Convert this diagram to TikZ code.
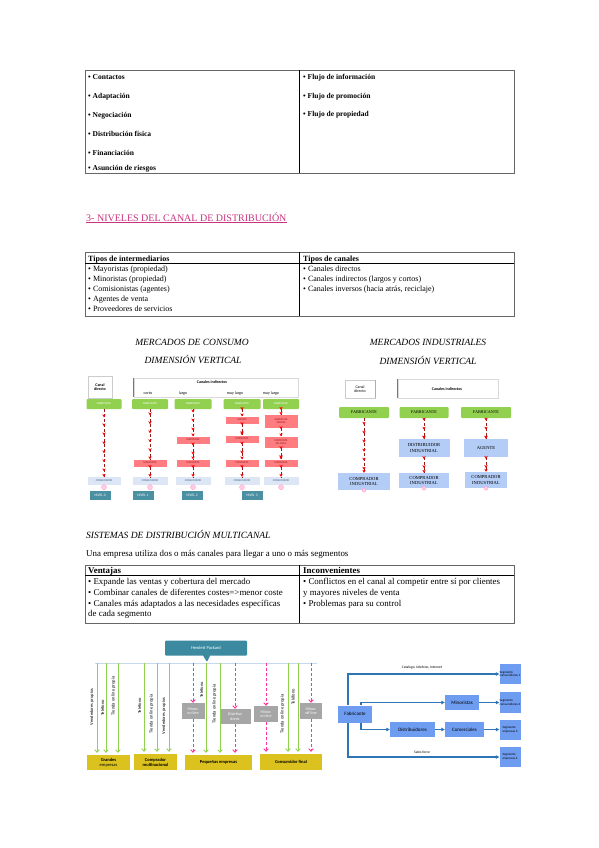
\documentclass[tikz,border=0pt]{standalone}
\usepackage{fontspec}
\setmainfont{Liberation Serif}
\newfontfamily\calibri{Carlito}
\usetikzlibrary{arrows.meta, positioning, calc, decorations.markings, shapes.callouts}

\definecolor{titlepink}{HTML}{C8327F}
\definecolor{boxgreen}{HTML}{92D050}
\definecolor{boxred}{HTML}{FF7C80}
\definecolor{chainred}{HTML}{8E1B1B}
\definecolor{consblue}{HTML}{DCE6F4}
\definecolor{nivelteal}{HTML}{4A8FA2}
\definecolor{indblue}{HTML}{B4CDF6}
\definecolor{edgeblue}{HTML}{4F81BD}
\definecolor{hpteal}{HTML}{3B8AA0}
\definecolor{segold}{HTML}{DCC21E}
\definecolor{greybox}{HTML}{A6A6A6}
\definecolor{dashpink}{HTML}{FF3399}
\definecolor{hpline}{HTML}{C6D9F1}
\definecolor{flowblue}{HTML}{2E75B6}
\definecolor{flowbox}{HTML}{6E9CF0}

\tikzset{
  tabframe/.style={draw=black!60, line width=0.8pt},
  tabrule/.style={draw=black, line width=0.6pt},
  cell/.style={anchor=base west, inner sep=0pt, font=\fontsize{8}{9}\selectfont},
  cellbf/.style={cell, font=\fontsize{8}{9}\selectfont\bfseries},
  bigcell/.style={anchor=base west, inner sep=0pt, font=\fontsize{8.9}{10}\selectfont},
  bigcellbf/.style={bigcell, font=\fontsize{8.9}{10}\selectfont\bfseries},
  flowcell/.style={anchor=base west, inner sep=0pt, font=\fontsize{7.5}{8}\selectfont\bfseries},
  ititle/.style={inner sep=0pt, font=\fontsize{9.5}{10}\selectfont\itshape},
  hdrbox/.style={draw=black!20, fill=white, align=center, inner sep=0pt,
    font=\calibri\bfseries\fontsize{4}{4.6}\selectfont},
  lbl/.style={inner sep=0pt, font=\calibri\fontsize{4}{4.6}\selectfont},
  fabbox/.style={fill=boxgreen, rounded corners=1pt, minimum height=10pt, inner sep=0pt,
    text=white, font=\calibri\fontsize{2.8}{3}\selectfont},
  redbox/.style={fill=boxred, minimum width=33pt, minimum height=7pt, inner sep=0pt, align=center,
    text=chainred, font=\calibri\fontsize{2.8}{3}\selectfont},
  consbox/.style={fill=consblue, minimum height=8pt, inner sep=0pt,
    text=edgeblue!70!black, font=\calibri\fontsize{2.8}{3}\selectfont},
  nivel/.style={fill=nivelteal, minimum width=21pt, minimum height=9pt, inner sep=0pt,
    text=white, font=\calibri\fontsize{3.6}{4}\selectfont},
  pinkdot/.style={circle, fill=dashpink!25, draw=dashpink!50, line width=0.3pt, minimum size=5pt, inner sep=0pt},
  chain/.style={draw=chainred, densely dashed, line width=0.7pt,
    postaction={decorate, decoration={markings,
      mark=between positions 0.12 and 1 step 9pt with {\arrow{Stealth[length=3pt,width=3.4pt,red]}},
      mark=at position 1 with {\arrow{Stealth[length=3pt,width=3.4pt,red]}}}}},
  indfab/.style={fill=boxgreen, rounded corners=1pt, minimum height=11pt, inner sep=0pt,
    font=\fontsize{4.2}{4.6}\selectfont},
  indbox/.style={fill=indblue, minimum height=17pt, inner sep=0pt, align=center,
    font=\fontsize{4.6}{5.6}\selectfont},
  hpbox/.style={rectangle callout, fill=hpteal, rounded corners=1pt, minimum width=82pt, minimum height=15pt,
    inner sep=0pt, text=white, font=\calibri\fontsize{4.5}{5}\selectfont},
  segbox/.style={fill=segold, minimum height=15pt, inner sep=0pt, align=center,
    font=\calibri\bfseries\fontsize{4.5}{5}\selectfont},
  greyb/.style={fill=greybox, minimum height=16pt, inner sep=0pt, align=center,
    text=white, font=\calibri\fontsize{4}{4.6}\selectfont},
  gline/.style={draw=boxgreen, line width=0.9pt, -{Straight Barb[length=2.5pt,width=4.5pt]}},
  pline/.style={draw=dashpink, line width=0.9pt, dash pattern=on 3pt off 2pt,
    -{Straight Barb[length=2.5pt,width=4.5pt]}},
  vlbl/.style={rotate=90, inner sep=0pt, font=\calibri\fontsize{4.5}{5}\selectfont},
  fbox/.style={fill=flowbox, minimum height=15pt, inner sep=0pt, align=center,
    font=\calibri\fontsize{5}{5.5}\selectfont},
  sbox/.style={fill=flowbox, minimum width=21pt, minimum height=20pt, inner sep=0pt, align=left,
    font=\calibri\fontsize{3.2}{3.6}\selectfont},
  flow/.style={draw=flowblue, line width=1.4pt, -{Triangle[length=3.5pt,width=3.5pt]}},
  flowlbl/.style={inner sep=0pt, font=\calibri\fontsize{3.6}{4}\selectfont}
}

\begin{document}
\begin{tikzpicture}[x=1pt, y=-1pt]
  \fill[white] (0,0) rectangle (599,848);
  \useasboundingbox (0,0) rectangle (599,848);

  \draw[tabframe] (85,70) rectangle (514,173);
  \draw[tabrule] (299,70) -- (299,173);
  \foreach \y/\t [count=\i] in {77/Contactos, 96/Adaptación, 115/Negociación,
      134/Distribución física, 153/Financiación, 168/Asunción de riesgos}
    \node[flowcell] (fa\i) at (88,\y+2.5) {• \t};
  \foreach \y/\t [count=\i] in {77/información, 96/promoción, 114/propiedad}
    \node[flowcell] (fb\i) at (303,\y+2.5) {• Flujo de \t};

  \node[anchor=base west, inner sep=0pt, text=titlepink, font=\fontsize{10}{11}\selectfont]
    (head) at (86,221) {3- NIVELES DEL CANAL DE DISTRIBUCIÓN};
  \draw[titlepink, line width=0.5pt] ([yshift=-1.4pt]head.base west) -- ([yshift=-1.4pt]head.base east);

  \draw[tabframe] (85,252) rectangle (514,316);
  \draw[tabrule] (85,263) -- (514,263);
  \draw[tabrule] (299,252) -- (299,316);
  \node[cellbf] (ti) at (88,261) {Tipos de intermediarios};
  \node[cellbf] (tc) at (303,261) {Tipos de canales};
  \foreach \y/\t [count=\i] in {271/Mayoristas (propiedad), 281/Minoristas (propiedad),
      291/Comisionistas (agentes), 301/Agentes de venta, 311/Proveedores de servicios}
    \node[cell] (ti\i) at (88,\y) {• \t};
  \node[cell] (tc1) at (303,271) {• Canales directos};
  \node[cell] (tc2) at (303,281) {• Canales indirectos (largos y cortos)};
  \node[cell] (tc3) at (303,291) {• Canales inversos (hacia atrás, reciclaje)};

  \node[ititle] (mct) at (192,342) {MERCADOS DE CONSUMO};
  \node[ititle] (mcv) at (193,359) {DIMENSIÓN VERTICAL};
  \node[hdrbox, minimum width=24pt, minimum height=22pt] (cdc) at (100,387) {Canal\\directo};
  \node[draw=black!15, minimum width=164pt, minimum height=19pt, inner sep=0pt] (cic) at (216,387.5) {};
  \draw[edgeblue, line width=0.8pt] (cic.north west) -- (cic.south west);
  \node[lbl, font=\calibri\bfseries\fontsize{4}{4.6}\selectfont] (cil) at (212,382) {Canales indirectos};
  \node[lbl] (co1) at (148,393) {corto};
  \node[lbl] (co2) at (183,393) {largo};
  \node[lbl] (co3) at (235,393) {muy largo};
  \node[lbl] (co4) at (271,393) {muy largo};

  \node[fabbox, minimum width=35pt] (f1) at (104,404) {FABRICANTE};
  \node[fabbox, minimum width=36pt] (f2) at (150,404) {FABRICANTE};
  \node[fabbox, minimum width=37pt] (f3) at (193,404) {FABRICANTE};
  \node[fabbox, minimum width=37pt] (f4) at (242,404) {FABRICANTE};
  \node[fabbox, minimum width=36pt] (f5) at (281,404) {FABRICANTE};

  \node[redbox] (m2a) at (150,463) {MINORISTA};
  \node[redbox] (m3a) at (193,440) {MAYORISTA};
  \node[redbox] (m3b) at (193,463) {MINORISTA};
  \node[redbox] (m4a) at (242,420) {AGENTE};
  \node[redbox] (m4b) at (242,439) {MAYORISTA};
  \node[redbox] (m4c) at (242,463) {MINORISTA};
  \node[redbox, minimum height=13pt] (m5a) at (281,421.5) {AGENTE DE\\VENTAS};
  \node[redbox, minimum height=11pt] (m5b) at (281,442) {MAYORISTA\\DE ZONA};
  \node[redbox] (m5c) at (281,463) {MINORISTA};

  \node[consbox, minimum width=33pt] (cn1) at (104,481) {CONSUMIDOR};
  \node[consbox, minimum width=35pt] (cn2) at (150,481) {CONSUMIDOR};
  \node[consbox, minimum width=35pt] (cn3) at (193,481) {CONSUMIDOR};
  \node[consbox, minimum width=35pt] (cn4) at (242,481) {CONSUMIDOR};
  \node[consbox, minimum width=35pt] (cn5) at (281,481) {CONSUMIDOR};

  \foreach \a/\b in {f1/cn1, f2/m2a, m2a/cn2, f3/m3a, m3a/m3b, m3b/cn3,
      f4/m4a, m4a/m4b, m4b/m4c, m4c/cn4, f5/m5a, m5a/m5b, m5b/m5c, m5c/cn5}
    \draw[chain] (\a) -- (\b);
  \foreach \c in {cn1, cn2, cn3, cn4, cn5}
    \node[pinkdot] (d\c) at ([yshift=-2pt]\c.south) {};

  \node[nivel] (n0) at (100,495) {NIVEL 0};
  \node[nivel] (n1) at (143,495) {NIVEL 1};
  \node[nivel] (n2) at (192,495) {NIVEL 2};
  \node[nivel] (n3) at (252,495) {NIVEL 3};

  \node[ititle] (mit) at (428,342) {MERCADOS INDUSTRIALES};
  \node[ititle] (miv) at (428,360) {DIMENSIÓN VERTICAL};
  \node[hdrbox, minimum width=30pt, minimum height=18pt, font=\calibri\fontsize{4}{4.6}\selectfont]
    (cdi) at (360,389) {Canal\\directo};
  \draw[edgeblue!60, line width=0.8pt] (cdi.north east) -- (cdi.south east);
  \node[draw=black!15, minimum width=100pt, minimum height=19pt, inner sep=0pt] (cii) at (448,388.5) {};
  \draw[edgeblue, line width=0.8pt] (cii.north west) -- (cii.south west);
  \node[lbl, font=\calibri\bfseries\fontsize{4}{4.6}\selectfont] (cil2) at (447,389) {Canales indirectos};

  \node[indfab, minimum width=50pt] (if1) at (364,412.5) {FABRICANTE};
  \node[indfab, minimum width=49pt] (if2) at (424,412.5) {FABRICANTE};
  \node[indfab, minimum width=50pt] (if3) at (486,412.5) {FABRICANTE};
  \node[indbox, minimum width=51pt, minimum height=18pt] (idi) at (424,448) {DISTRIBUIDOR\\INDUSTRIAL};
  \node[indbox, minimum width=44pt, minimum height=18pt] (iag) at (486,448) {AGENTE};
  \node[indbox, minimum width=52pt] (ic1) at (364,481.5) {COMPRADOR\\INDUSTRIAL};
  \node[indbox, minimum width=50pt, minimum height=15pt] (ic2) at (424,480.5) {COMPRADOR\\INDUSTRIAL};
  \node[indbox, minimum width=42pt, minimum height=16pt] (ic3) at (486,480) {COMPRADOR\\INDUSTRIAL};
  \foreach \a/\b in {if1/ic1, if2/idi, idi/ic2, if3/iag, iag/ic3}
    \draw[chain] (\a) -- (\b);
  \foreach \c in {ic1, ic2, ic3}
    \node[pinkdot, minimum size=4pt] (d\c) at (\c.south) {};

  \node[ititle, anchor=base west] (smt) at (86,538) {SISTEMAS DE DISTRIBUCIÓN MULTICANAL};
  \node[bigcell] (smd) at (86,556) {Una empresa utiliza dos o más canales para llegar a uno o más segmentos};
  \draw[tabframe] (85,565) rectangle (514,623);
  \draw[tabrule] (85,575) -- (514,575);
  \draw[tabrule] (299,565) -- (299,623);
  \node[bigcellbf] (va) at (88,573) {Ventajas};
  \node[bigcellbf] (in) at (303,573) {Inconvenientes};
  \node[bigcell] (va1) at (88,584) {• Expande las ventas y cobertura del mercado};
  \node[bigcell] (va2) at (88,595) {• Combinar canales de diferentes costes=>menor coste};
  \node[bigcell] (va3) at (88,606) {• Canales más adaptados a las necesidades específicas};
  \node[bigcell] (va4) at (88,616.5) {de cada segmento};
  \node[bigcell] (in1) at (303,584) {• Conflictos en el canal al competir entre sí por clientes};
  \node[bigcell] (in2) at (303,595) {y mayores niveles de venta};
  \node[bigcell] (in3) at (303,606) {• Problemas para su control};

  \node[hpbox, callout absolute pointer={(207,662)}] (hp) at (206,648) {Hewlett Packard};
  \coordinate (hl) at (95,663);
  \coordinate (hr) at (317,663);
  \draw[hpline, line width=0.8pt] (hl) -- (hr);

  \node[segbox, minimum width=43pt] (ge) at (108.5,762.5) {Grandes\\\mdseries empresas};
  \node[segbox, minimum width=43pt, minimum height=16pt] (cm) at (155.5,762) {Comprador\\multinacional};
  \node[segbox, minimum width=67pt] (pe) at (218.5,762.5) {Pequeñas empresas};
  \node[segbox, minimum width=62pt, minimum height=16pt] (cf) at (291,762) {Consumidor final};

  \node[greyb, minimum width=23pt] (g1) at (193,711) {Minor.\\on line};
  \node[greyb, minimum width=31pt, minimum height=15pt] (g2) at (235,716.5) {Distribui\\dores};
  \node[greyb, minimum width=24pt] (g3) at (266,714) {Minor.\\on line};
  \node[greyb, minimum width=22pt] (g4) at (311,711) {Minor.\\off line};

  \foreach \x/\b in {97/ge, 106/ge, 118/ge, 144/cm, 157/cm, 169/cm, 206/pe, 220/pe, 288/cf, 298/cf} {
    \coordinate (t\x) at (\x,663);
    \draw[gline, shorten >=2pt] (t\x) -- (\b.north -| t\x);
  }
  \foreach \g/\b in {g1/pe, g2/pe, g3/cf, g4/cf} {
    \coordinate (t\g) at (\g |- hl);
    \draw[pline] (t\g) -- (\g.north);
    \draw[pline, shorten >=2pt] (\g.south) -- (\b.north -| \g);
  }

  \node[vlbl] (v1) at (92,707) {Vendedores propios};
  \node[vlbl] (v2) at (102.5,708) {Teléfono};
  \node[vlbl] (v3) at (113.5,696) {Tienda on line propia};
  \node[vlbl] (v4) at (139.5,706) {Teléfono};
  \node[vlbl] (v5) at (151.5,714) {Tienda on line propia};
  \node[vlbl] (v6) at (164,716) {Vendedores propios};
  \node[vlbl] (v7) at (201.5,690) {Teléfono};
  \node[vlbl] (v8) at (214.5,704) {Tienda on line propia};
  \node[vlbl] (v9) at (282.5,714) {Tienda on line propia};
  \node[vlbl] (v10) at (293,697) {Teléfono};

  \node[fbox, minimum width=34pt, minimum height=17pt] (fab) at (355,714) {Fabricante};
  \node[fbox, minimum width=34pt] (mn) at (462,702.5) {Minoristas};
  \node[fbox, minimum width=45pt] (ds) at (412.5,729.5) {Distribuidores};
  \node[fbox, minimum width=39pt] (cm2) at (464.5,729.5) {Comerciales};
  \node[sbox] (s1) at (510,674) {Segmento\\consumidores 1};
  \node[sbox, minimum height=21pt] (s2) at (510,702.5) {Segmento\\consumidores 2};
  \node[sbox] (s3) at (510,729.5) {Segmento\\empresas 3};
  \node[sbox] (s4) at (510,757) {Segmento\\empresas 4};

  \draw[flow] ([xshift=-7pt]fab.north) |- (s1.west);
  \draw[flow] ([xshift=6pt]fab.north) |- (mn.west);
  \draw[flow] (mn) -- (s2);
  \draw[flow] ([xshift=6pt]fab.south) |- (ds.west);
  \draw[flow] (ds) -- (cm2);
  \draw[flow] (cm2) -- (s3);
  \draw[flow] ([xshift=-7pt]fab.south) |- (s4.west);
  \node[flowlbl] (cat) at (422,668) {Catalogo, telefono, Internet};
  \node[flowlbl] (sf) at (422,752) {Sales force};
\end{tikzpicture}
\end{document}
